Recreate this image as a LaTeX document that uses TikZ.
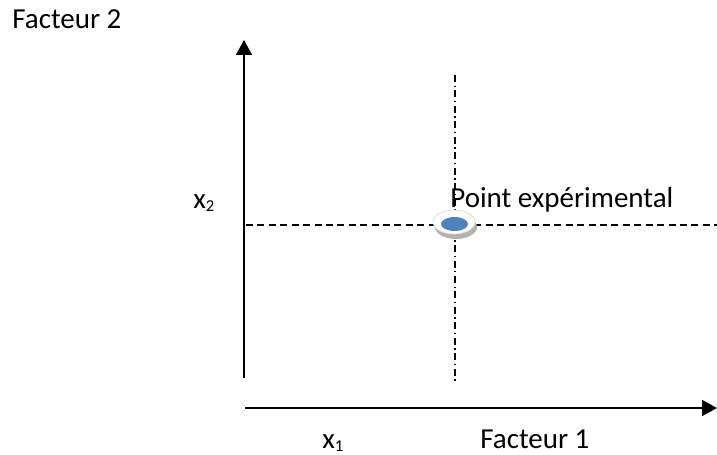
\documentclass[tikz,border=0pt]{standalone}
\usepackage{fontspec}
\setmainfont{Carlito}
\usetikzlibrary{arrows.meta,positioning,shapes.geometric}
\definecolor{pointblue}{RGB}{79,129,189}
\newcommand{\idx}[1]{\raisebox{-2.2pt}{\fontsize{9.5}{10}\selectfont #1}}

\begin{document}
\begin{tikzpicture}[
    x=0.02cm, y=-0.02cm,
    txt/.style={anchor=base west, inner sep=0pt, font=\fontsize{16.5}{19}\selectfont},
    axis/.style={draw, line width=1.1pt, -{Triangle[length=8.5pt,width=9pt]}},
    guide/.style={draw, line width=0.6pt, dash pattern=on 4pt off 2.5pt},
    guidedot/.style={draw, line width=0.6pt, dash pattern=on 4pt off 2pt on 0.8pt off 2pt},
    disc/.style={ellipse, inner sep=0pt, minimum width=0.84cm, minimum height=0.48cm}
]
\useasboundingbox (0,0) rectangle (717,454);

% axes
\coordinate (ybot) at (244,378);
\coordinate (ytop) at (244,40);
\coordinate (xleft) at (245,408);
\coordinate (xright) at (717,408);
\draw[axis] (ybot) -- (ytop);
\draw[axis] (xleft) -- (xright);

% guide lines
\coordinate (hleft) at (246,225);
\coordinate (hright) at (717,225);
\coordinate (vtop) at (455,75);
\coordinate (vbot) at (455,383);
\draw[guide] (hleft) -- (hright);
\draw[guidedot] (vtop) -- (vbot);

% experimental point
\node[disc, fill=gray!60] (shadow) at (456,227) {};
\node[disc, fill=white, draw=gray!30, line width=0.4pt] (pt) at (454,222) {};
\node[ellipse, inner sep=0pt, minimum width=0.54cm, minimum height=0.28cm, fill=pointblue] (ptin) at (454.5,224) {};

% labels
\node[txt] (f2) at (12,28) {Facteur 2};
\node[txt] (x2) at (193,208) {x\idx{2}};
\node[txt] (pe) at (450,207) {Point expérimental};
\node[txt] (x1) at (322,448) {x\idx{1}};
\node[txt] (f1) at (480,448) {Facteur 1};

\end{tikzpicture}
\end{document}
